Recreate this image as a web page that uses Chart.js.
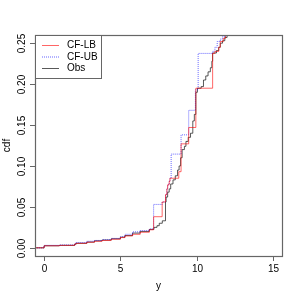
<!DOCTYPE html>
<html>
<head>
<meta charset="utf-8">
<script src="https://cdn.jsdelivr.net/npm/chart.js@4.4.1/dist/chart.umd.min.js"></script>
<style>
  html, body { margin: 0; padding: 0; background: #fff; }
  #wrap { width: 300px; height: 300px; }
</style>
</head>
<body>
<div id="wrap"><canvas id="chart" width="300" height="300"></canvas></div>
<script>
// ECDF jump points (x, cdf after the jump)
const obsX = [-0.6, 0, 1.0, 2.0, 2.1, 2.8, 3.3, 3.8, 4.4, 5.0, 5.3, 5.8, 6.3, 6.9, 7.2, 7.4, 7.55, 7.75, 7.96, 8.0, 8.1, 8.2, 8.3, 8.45, 8.6, 8.75, 8.85, 8.95, 9.05, 9.2, 9.3, 9.45, 9.6, 9.75, 9.85, 9.95, 10.05, 10.3, 10.45, 10.6, 10.75, 10.9, 11.0, 11.05, 11.3, 11.45, 11.55, 11.7, 11.85, 12.0, 12.3, 13.0];
const obsY = [0, 0.0025, 0.003, 0.0045, 0.0055, 0.007, 0.0085, 0.0095, 0.011, 0.013, 0.015, 0.018, 0.020, 0.0225, 0.025, 0.027, 0.030, 0.033, 0.056, 0.062, 0.068, 0.072, 0.078, 0.083, 0.088, 0.095, 0.100, 0.110, 0.120, 0.124, 0.130, 0.135, 0.140, 0.155, 0.163, 0.190, 0.195, 0.197, 0.205, 0.210, 0.215, 0.220, 0.228, 0.238, 0.241, 0.245, 0.250, 0.253, 0.257, 0.262, 0.27, 0.30];

const lbX = [-0.6, 0, 1.0, 2.0, 2.1, 2.8, 3.3, 3.8, 4.4, 5.0, 5.3, 5.8, 6.3, 6.9, 7.18, 7.74, 7.96, 8.05, 8.1, 8.2, 8.25, 8.83, 8.98, 9.48, 9.95, 11.05, 11.2, 11.45, 11.55, 11.75, 11.9, 12.3, 13.0];
const lbY = [0, 0.0025, 0.003, 0.0045, 0.0055, 0.0068, 0.008, 0.009, 0.0105, 0.0125, 0.0145, 0.0165, 0.019, 0.022, 0.038, 0.056, 0.065, 0.072, 0.077, 0.081, 0.085, 0.093, 0.127, 0.147, 0.195, 0.2375, 0.240, 0.245, 0.252, 0.256, 0.262, 0.27, 0.30];

const ubX = [-0.6, 0, 1.0, 2.0, 2.1, 2.8, 3.3, 3.8, 4.4, 5.0, 5.3, 5.8, 6.3, 6.9, 7.18, 7.74, 7.96, 8.05, 8.1, 8.2, 8.25, 8.33, 8.98, 9.48, 9.92, 10.1, 11.05, 11.2, 11.35, 11.55, 11.7, 11.9, 12.3, 13.0];
const ubY = [0, 0.003, 0.0035, 0.005, 0.0065, 0.008, 0.009, 0.010, 0.0115, 0.0135, 0.0165, 0.0195, 0.021, 0.023, 0.053, 0.056, 0.065, 0.072, 0.077, 0.081, 0.085, 0.1145, 0.138, 0.168, 0.193, 0.2375, 0.240, 0.245, 0.252, 0.255, 0.258, 0.262, 0.27, 0.30];

const xTicks = [0, 5, 10, 15];
const yTicks = [0, 0.05, 0.10, 0.15, 0.20, 0.25];
const yTickLabels = ["0.00", "0.05", "0.10", "0.15", "0.20", "0.25"];
const seriesNames = ["CF-LB", "CF-UB", "Obs"];

const FONT = '10px "Liberation Sans", Arial, sans-serif';

function toPoints(xs, ys) {
  return xs.map((x, i) => ({ x: x, y: ys[i] }));
}

// R-style frame, ticks, labels and legend
const baseGraphics = {
  id: "baseGraphics",
  afterDraw(chart) {
    const ctx = chart.ctx;
    const area = chart.chartArea;
    const xs = chart.scales.x;
    const ys = chart.scales.y;

    ctx.save();
    ctx.strokeStyle = "#666";
    ctx.lineWidth = 1.2;
    ctx.strokeRect(area.left + 0.5, area.top + 0.5, area.right - area.left, area.bottom - area.top);

    ctx.fillStyle = "#000";
    ctx.font = FONT;
    ctx.lineWidth = 1;

    // x axis
    ctx.textAlign = "center";
    ctx.textBaseline = "middle";
    xTicks.forEach((v) => {
      const px = Math.round(xs.getPixelForValue(v)) + 0.5;
      ctx.beginPath();
      ctx.moveTo(px, area.bottom);
      ctx.lineTo(px, area.bottom + 5);
      ctx.stroke();
      ctx.fillText(String(v), px, area.bottom + 13);
    });

    // y axis
    yTicks.forEach((v, i) => {
      const py = Math.round(ys.getPixelForValue(v)) + 0.5;
      ctx.beginPath();
      ctx.moveTo(area.left - 5, py);
      ctx.lineTo(area.left, py);
      ctx.stroke();
      ctx.save();
      ctx.translate(area.left - 13, py);
      ctx.rotate(-Math.PI / 2);
      ctx.fillText(yTickLabels[i], 0, 0);
      ctx.restore();
    });

    // axis titles
    const cx = (area.left + area.right) / 2;
    const cy = (area.top + area.bottom) / 2;
    ctx.fillText("y", cx, area.bottom + 30);
    ctx.save();
    ctx.translate(7, cy);
    ctx.rotate(-Math.PI / 2);
    ctx.fillText("cdf", 0, 0);
    ctx.restore();

    // legend
    const lx = area.left, ly = area.top;
    ctx.fillStyle = "#fff";
    ctx.fillRect(lx + 1, ly + 1, 65, 42);
    ctx.strokeStyle = "#666";
    ctx.strokeRect(lx + 0.5, ly + 0.5, 66, 43);
    ctx.textAlign = "left";
    chart.data.datasets.forEach((ds, i) => {
      const yy = ly + 10.5 + i * 11.5;
      ctx.strokeStyle = ds.borderColor;
      ctx.setLineDash(ds.borderDash || []);
      ctx.beginPath();
      ctx.moveTo(lx + 7, yy);
      ctx.lineTo(lx + 24, yy);
      ctx.stroke();
      ctx.setLineDash([]);
      ctx.fillStyle = "#000";
      ctx.fillText(seriesNames[i], lx + 32, yy);
    });
    ctx.restore();
  },
};

new Chart(document.getElementById("chart"), {
  type: "line",
  data: {
    datasets: [
      {
        label: seriesNames[0],
        data: toPoints(lbX, lbY),
        borderColor: "rgba(255, 0, 0, 0.6)",
      },
      {
        label: seriesNames[1],
        data: toPoints(ubX, ubY),
        borderColor: "rgba(0, 0, 255, 0.6)",
        borderDash: [1, 1],
      },
      {
        label: seriesNames[2],
        data: toPoints(obsX, obsY),
        borderColor: "rgba(0, 0, 0, 0.65)",
      },
    ],
  },
  options: {
    responsive: false,
    animation: false,
    devicePixelRatio: 1,
    layout: { padding: { left: 35, top: 35, right: 18, bottom: 44 } },
    datasets: {
      line: {
        stepped: "before",
        pointRadius: 0,
        borderWidth: 1,
        fill: false,
        tension: 0,
      },
    },
    plugins: {
      legend: { display: false },
      tooltip: { enabled: false },
    },
    scales: {
      x: { type: "linear", min: -0.6, max: 15.6, display: false },
      y: { type: "linear", min: -0.01, max: 0.26, display: false },
    },
  },
  plugins: [baseGraphics],
});
</script>
</body>
</html>
